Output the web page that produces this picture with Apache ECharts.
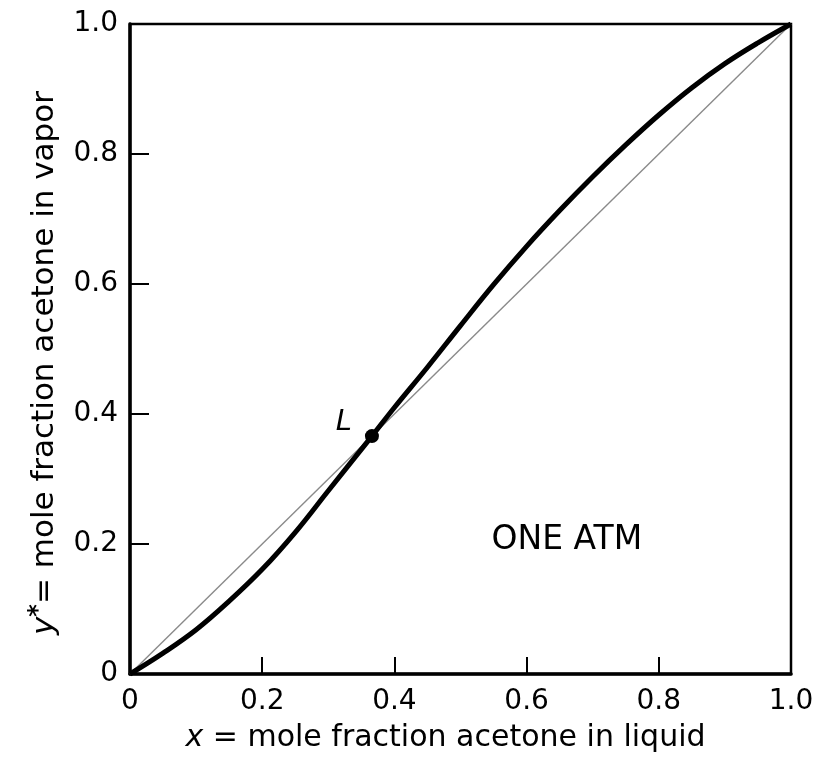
<!DOCTYPE html>
<html>
<head>
<meta charset="utf-8">
<script src="https://cdn.jsdelivr.net/npm/echarts@6/dist/echarts.min.js"></script>
<style>
html,body{margin:0;padding:0;background:#fff;}
#chart{width:824px;height:762px;}
</style>
</head>
<body>
<div id="chart"></div>
<script>
// x-y equilibrium curve, acetone (liquid mole fraction -> vapor mole fraction)
var liquidX = [0, 0.05, 0.10, 0.15, 0.20, 0.25, 0.30, 0.366, 0.40, 0.45, 0.50, 0.55, 0.60, 0.65, 0.70, 0.75, 0.80, 0.85, 0.90, 0.95, 1.0];
var vaporY  = [0, 0.032, 0.068, 0.112, 0.161, 0.218, 0.282, 0.366, 0.410, 0.472, 0.536, 0.599, 0.658, 0.713, 0.765, 0.814, 0.860, 0.902, 0.939, 0.971, 1.0];
// 45-degree reference line
var diagX = [0, 1];
var diagY = [0, 1];
// azeotrope point L
var azeoX = [0.366];
var azeoY = [0.366];
var azeoLabel = ['L'];
// annotation
var noteText = ['ONE ATM'];
var notePos = [[0.661, 0.206]];
// tick labels
var xTickLabels = ['0', '0.2', '0.4', '0.6', '0.8', '1.0'];
var yTickLabels = ['0', '0.2', '0.4', '0.6', '0.8', '1.0'];

function zip(a, b) { return a.map(function (v, i) { return [v, b[i]]; }); }
function tickFmt(labels) {
  return function (v) { var i = Math.round(v / 0.2); return labels[i] !== undefined ? labels[i] : ''; };
}

var font = 'DejaVu Sans';
var chart = echarts.init(document.getElementById('chart'), null, {renderer: 'canvas'});
chart.setOption({
  backgroundColor: '#fff',
  animation: false,
  grid: {left: 130, right: 33, top: 24, bottom: 88, show: true, borderColor: '#000', borderWidth: 2.5, backgroundColor: 'transparent'},
  xAxis: {
    type: 'value', min: 0, max: 1, interval: 0.2,
    axisLine: {show: true, lineStyle: {color: '#000', width: 3.5}},
    axisTick: {show: true, inside: true, length: 17, lineStyle: {color: '#000', width: 2}},
    splitLine: {show: false},
    axisLabel: {formatter: tickFmt(xTickLabels), color: '#000', fontFamily: font, fontSize: 28, margin: 14},
    name: '{i|x} = mole fraction acetone in liquid',
    nameLocation: 'middle', nameGap: 49,
    nameTextStyle: {color: '#000', fontFamily: font, fontSize: 30, padding: [0, 30, 0, 0],
      rich: {i: {fontStyle: 'italic', fontFamily: font, fontSize: 30, color: '#000'}}}
  },
  yAxis: {
    type: 'value', min: 0, max: 1, interval: 0.2,
    axisLine: {show: true, lineStyle: {color: '#000', width: 3.5}},
    axisTick: {show: true, inside: true, length: 19, lineStyle: {color: '#000', width: 2}},
    splitLine: {show: false},
    axisLabel: {formatter: tickFmt(yTickLabels), color: '#000', fontFamily: font, fontSize: 28, margin: 12},
    name: '{i|y}{s|*}= mole fraction acetone in vapor',
    nameLocation: 'middle', nameGap: 66, nameRotate: 90,
    nameTextStyle: {color: '#000', fontFamily: font, fontSize: 31, lineHeight: 36, padding: [0, 28, 0, 0],
      rich: {
        i: {fontStyle: 'italic', fontFamily: font, fontSize: 31, color: '#000', lineHeight: 36},
        s: {fontFamily: font, fontSize: 24, fontWeight: 'bold', color: '#000', verticalAlign: 'top', lineHeight: 36}
      }}
  },
  series: [
    {
      type: 'line', data: zip(diagX, diagY), symbol: 'none',
      lineStyle: {color: '#8a8a8a', width: 1.4}, z: 2, silent: true
    },
    {
      type: 'line', data: zip(liquidX, vaporY), symbol: 'none', smooth: 0.4,
      lineStyle: {color: '#000', width: 5}, z: 3, silent: true
    },
    {
      type: 'scatter', data: zip(azeoX, azeoY), symbol: 'circle', symbolSize: 14,
      itemStyle: {color: '#000', opacity: 1}, z: 4,
      label: {show: true, formatter: function (p) { return azeoLabel[p.dataIndex]; },
        position: 'left', offset: [-8, -14], color: '#000', fontFamily: font, fontSize: 29, fontStyle: 'italic'}
    },
    {
      type: 'scatter', data: notePos, symbolSize: 0, z: 4,
      itemStyle: {color: '#000', opacity: 1},
      label: {show: true, formatter: function (p) { return noteText[p.dataIndex]; },
        position: 'inside', color: '#000', fontFamily: font, fontSize: 33}
    }
  ]
});
</script>
</body>
</html>
